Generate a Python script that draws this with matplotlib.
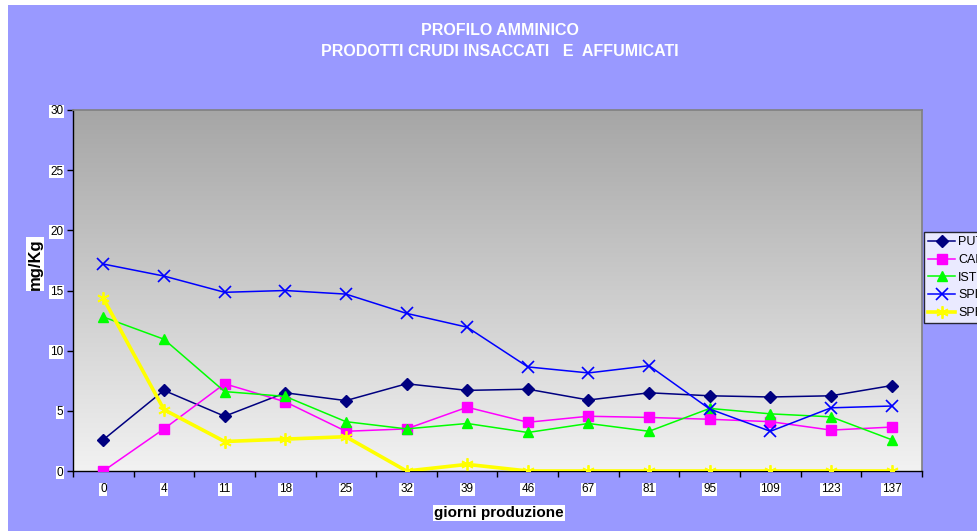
import numpy as np
import matplotlib
matplotlib.use("Agg")
import matplotlib.pyplot as plt
from matplotlib.patches import Rectangle
from matplotlib.colors import LinearSegmentedColormap

plt.rcParams['font.family'] = ['Liberation Sans', 'DejaVu Sans']

days = ["0", "4", "11", "18", "25", "32", "39", "46", "67", "81", "95", "109", "123", "137"]
put = [2.6, 6.7, 4.55, 6.5, 5.85, 7.25, 6.7, 6.8, 5.9, 6.5, 6.25, 6.15, 6.25, 7.1]
cad = [0.0, 3.5, 7.25, 5.75, 3.3, 3.5, 5.3, 4.05, 4.55, 4.45, 4.3, 4.1, 3.4, 3.65]
ist = [12.8, 10.95, 6.6, 6.2, 4.1, 3.5, 3.95, 3.2, 3.95, 3.3, 5.2, 4.75, 4.5, 2.6]
spd = [17.2, 16.2, 14.85, 15.0, 14.7, 13.1, 11.95, 8.65, 8.15, 8.75, 5.15, 3.3, 5.25, 5.4]
spr = [14.35, 5.1, 2.45, 2.65, 2.85, 0.0, 0.55, 0.0, 0.0, 0.0, 0.0, 0.0, 0.0, 0.0]
yticks = [0, 5, 10, 15, 20, 25, 30]

W, H = 978, 531
fig = plt.figure(figsize=(W / 100, H / 100), dpi=100, facecolor='white')
fig.patches.append(Rectangle((8 / W, 0), 1, 1 - 5 / H, transform=fig.transFigure,
                             facecolor='#9999FF', edgecolor='none', zorder=-10))

ax = fig.add_axes([73 / W, (H - 471) / H, (922 - 73) / W, (471 - 110) / H])
ax.set_facecolor('none')
grad = np.linspace(0, 1, 256).reshape(-1, 1)
cmap = LinearSegmentedColormap.from_list('g', ['#A6A6A6', '#F2F2F2'])
ax.imshow(grad, aspect='auto', cmap=cmap, origin='upper', extent=[0, 1, 0, 1],
          transform=ax.transAxes, zorder=0)

x = np.arange(len(days))
ax.plot(x, put, color='#000080', marker='D', markersize=6, lw=1.1, label='PUT', zorder=3)
ax.plot(x, cad, color='#FF00FF', marker='s', markersize=7, lw=1.1, label='CAD', zorder=3)
ax.plot(x, ist, color='#00FF00', marker='^', markersize=7, lw=1.1, label='IST', zorder=3)
ax.plot(x, spd, color='#0000FF', marker='x', markersize=8, mew=1.2, lw=1.1, label='SPD', zorder=3)
ax.plot(x, spr, color='#FFFF00', marker=(6, 2, 0), markersize=9, mew=1.3, lw=2.6, label='SPR', zorder=4)

ax.set_xlim(-0.5, len(days) - 0.5)
ax.set_ylim(0, 30)
ax.set_yticks(yticks)
ax.set_yticklabels([str(v) for v in yticks])
ax.set_xticks(np.arange(-0.5, len(days), 1.0))
ax.set_xticklabels([])
ax.set_xticks(x, minor=True)
ax.set_xticklabels(days, minor=True)
ax.tick_params(axis='x', which='major', direction='out', length=4, width=1, color='black')
ax.tick_params(axis='x', which='minor', length=0, pad=9, labelsize=8.5)
ax.tick_params(axis='y', direction='out', length=4, width=1, pad=3, labelsize=8.5)
for lbl in ax.get_xticklabels(minor=True) + ax.get_yticklabels():
    lbl.set_bbox(dict(facecolor='white', edgecolor='none', pad=0.6))

for s in ['top', 'right']:
    ax.spines[s].set_color('#808080')
    ax.spines[s].set_linewidth(1.2)
for s in ['left', 'bottom']:
    ax.spines[s].set_color('black')
    ax.spines[s].set_linewidth(1.0)

fig.text(500 / W, 1 - 31 / H, 'PROFILO AMMINICO', ha='center', va='center',
         color='white', fontsize=11.5, fontweight='bold')
fig.text(500 / W, 1 - 52 / H, 'PRODOTTI CRUDI INSACCATI   E  AFFUMICATI', ha='center', va='center',
         color='white', fontsize=11.5, fontweight='bold')
fig.text(35 / W, 1 - 264 / H, 'mg/Kg', rotation=90, ha='center', va='center', fontsize=12,
         fontweight='bold', bbox=dict(facecolor='white', edgecolor='none', pad=0.8))
fig.text(499 / W, 1 - 513 / H, 'giorni produzione', ha='center', va='center', fontsize=11,
         fontweight='bold', bbox=dict(facecolor='white', edgecolor='none', pad=0.8))

leg = fig.legend(loc='upper left', bbox_to_anchor=(924 / W, 1 - 232 / H), frameon=True,
                 fontsize=9, handlelength=2.15, handletextpad=0.25, labelspacing=0.45,
                 borderpad=0.35, borderaxespad=0, fancybox=False)
leg.get_frame().set_edgecolor('black')
leg.get_frame().set_facecolor('white')
leg.get_frame().set_linewidth(1.0)

fig.savefig('out.png', dpi=100)
